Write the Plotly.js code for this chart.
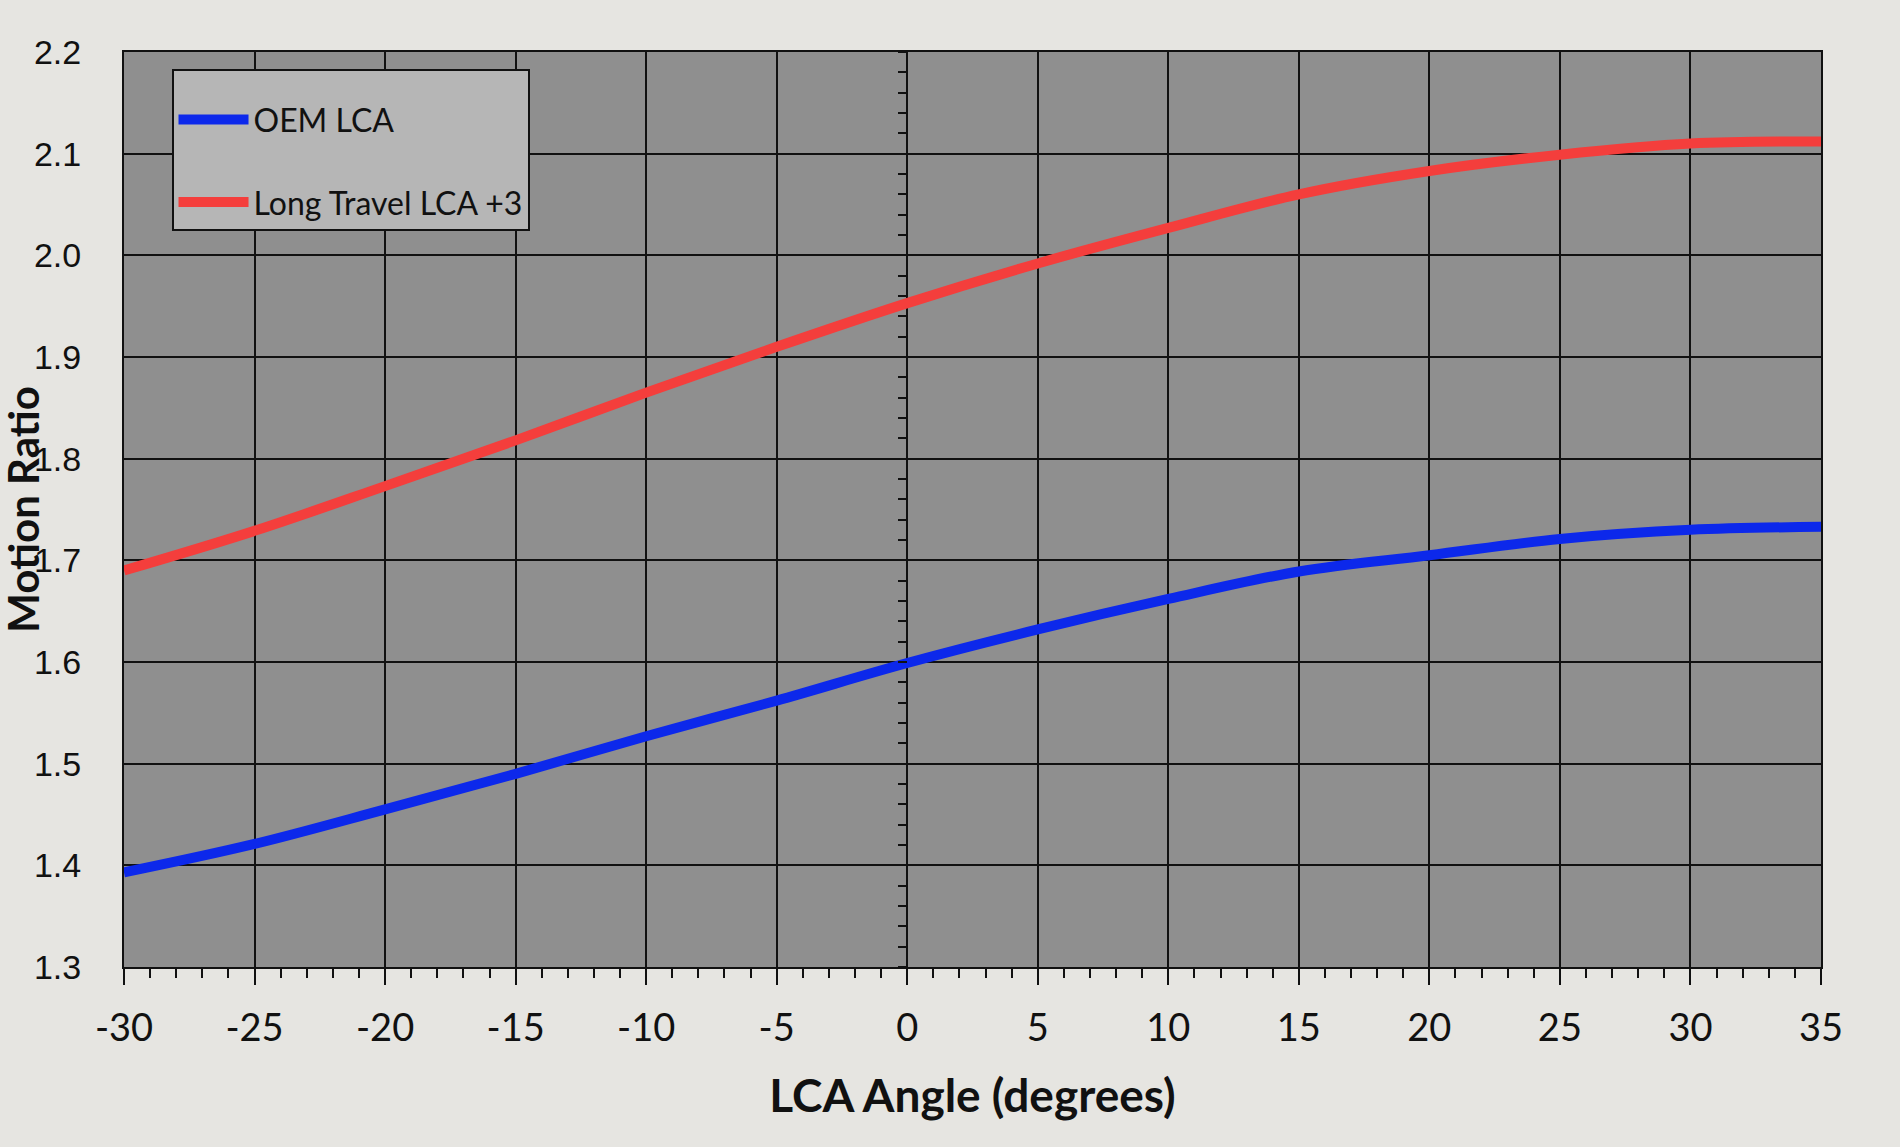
<!DOCTYPE html>
<html>
<head>
<meta charset="utf-8">
<script src="https://cdn.plot.ly/plotly-3.0.1.min.js"></script>
<style>
  html, body { margin: 0; padding: 0; background: #e6e5e1; }
  #chart { width: 1900px; height: 1147px; }
</style>
</head>
<body>
<div id="chart"></div>
<script>
// LCA angle (degrees)
const lcaAngle = [-30, -25, -20, -15, -10, -5, 0, 5, 10, 15, 20, 25, 30, 35];
// Motion ratio, OEM LCA
const oemLca = [1.393, 1.421, 1.455, 1.490, 1.527, 1.562, 1.599, 1.632, 1.662, 1.689, 1.705, 1.721, 1.730, 1.733];
// Motion ratio, Long Travel LCA +3
const longTravelLca = [1.690, 1.729, 1.773, 1.818, 1.865, 1.910, 1.953, 1.992, 2.027, 2.060, 2.083, 2.099, 2.110, 2.112];

// x tick labels (plain hyphen, as in the original)
const xTickVals = [-30, -25, -20, -15, -10, -5, 0, 5, 10, 15, 20, 25, 30, 35];
const xTickText = ["-30", "-25", "-20", "-15", "-10", "-5", "0", "5", "10", "15", "20", "25", "30", "35"];

const seriesNames = ["OEM LCA", "Long Travel LCA +3"];
const xTitle = "LCA Angle (degrees)";
const yTitle = "Motion Ratio";

const traces = [
  {
    x: lcaAngle, y: oemLca, name: seriesNames[0], type: "scatter", mode: "lines",
    line: { color: "rgb(12,40,235)", width: 10, shape: "spline", smoothing: 1 },
    legendgroup: "a"
  },
  {
    x: lcaAngle, y: longTravelLca, name: seriesNames[1], type: "scatter", mode: "lines",
    line: { color: "rgb(244,62,60)", width: 10, shape: "spline", smoothing: 1 },
    legendgroup: "b"
  },
  { x: [], y: [], yaxis: "y2", showlegend: false, hoverinfo: "skip", type: "scatter", mode: "lines" }
];

const layout = {
  width: 1900, height: 1147,
  margin: { l: 124, r: 79, t: 52, b: 180 },
  paper_bgcolor: "#e6e5e1",
  plot_bgcolor: "#8f8f8f",
  showlegend: true,
  legend: {
    x: 0.028, y: 0.981, xanchor: "left", yanchor: "top",
    bgcolor: "#b6b6b6", bordercolor: "#111", borderwidth: 2,
    font: { family: "Lato, 'Open Sans', sans-serif", size: 32, color: "#111" },
    title: { text: " ", font: { size: 16 } },
    tracegroupgap: 38, itemwidth: 70, traceorder: "grouped"
  },
  xaxis: {
    range: [-30, 35], tickmode: "array", tickvals: xTickVals, ticktext: xTickText,
    showgrid: true, gridcolor: "#111", gridwidth: 2,
    zeroline: true, zerolinecolor: "#111", zerolinewidth: 2,
    showline: true, linecolor: "#111", linewidth: 2, mirror: true,
    ticks: "outside", ticklen: 16, tickwidth: 2, tickcolor: "#111",
    minor: { dtick: 1, tick0: 0, ticks: "outside", ticklen: 9, tickwidth: 2, tickcolor: "#111", showgrid: false },
    ticklabelstandoff: 10,
    tickfont: { family: "Lato, 'Open Sans', sans-serif", size: 38, color: "#111" },
    title: { text: xTitle, font: { family: "Lato, 'Open Sans', sans-serif", size: 46, color: "#111", weight: "bold" }, standoff: 32 }
  },
  yaxis: {
    range: [1.3, 2.2], dtick: 0.1, tick0: 1.3, tickformat: ".1f",
    showgrid: true, gridcolor: "#111", gridwidth: 2,
    zeroline: false,
    showline: true, linecolor: "#111", linewidth: 2, mirror: true,
    ticks: "", ticklabelstandoff: 34,
    tickfont: { family: "'Liberation Sans', Arial, sans-serif", size: 34, color: "#111" }
  },
  yaxis2: {
    range: [1.3, 2.2], overlaying: "y", anchor: "free", position: 30 / 65,
    showgrid: false, zeroline: false, showline: false,
    showticklabels: false, dtick: 0.1, tick0: 1.3,
    ticks: "outside", ticklen: 9, tickwidth: 2, tickcolor: "#111",
    minor: { dtick: 0.02, ticks: "outside", ticklen: 9, tickwidth: 2, tickcolor: "#111", showgrid: false }
  },
  annotations: [
    {
      text: "<b>" + yTitle + "</b>", textangle: -90,
      xref: "paper", yref: "paper", x: -0.060, y: 0.5, xanchor: "center", yanchor: "middle",
      showarrow: false,
      font: { family: "Lato, 'Open Sans', sans-serif", size: 42, color: "#111" }
    }
  ]
};

Plotly.newPlot("chart", traces, layout, { displayModeBar: false, staticPlot: true });
</script>
</body>
</html>
